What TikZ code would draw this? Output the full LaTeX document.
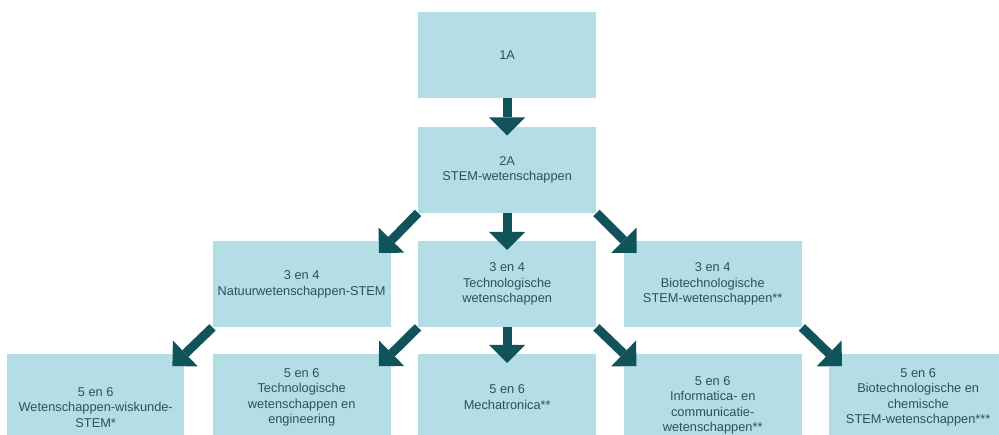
\documentclass[tikz,border=0pt]{standalone}
\usepackage{fontspec}
\setmainfont{Liberation Sans}
\usetikzlibrary{arrows.meta,calc}
\definecolor{boxfill}{HTML}{B3DEE6}
\definecolor{arrowcol}{HTML}{10535B}
\definecolor{textcol}{HTML}{2B5259}
\begin{document}
\begin{tikzpicture}[x=1pt,y=-1pt,
  box/.style={fill=boxfill, text=textcol, minimum width=178pt, minimum height=86pt,
    inner sep=0pt, anchor=north west, align=center,
    font=\fontsize{12.8}{15.5}\selectfont},
  flow/.style={draw=arrowcol, line width=9pt,
    -{Triangle[width=36pt,length=18pt,line width=0pt]}}]
\clip (0,0) rectangle (999,435);
% row 1 and 2
\node[box] (n1) at (418,12) {1A};
\node[box] (n2) at (418,126.5) {2A\\STEM-wetenschappen};
% row 3
\node[box] (n3a) at (212.5,241) {3 en 4\\Natuurwetenschappen-STEM};
\node[box] (n3b) at (418,241) {3 en 4\\Technologische\\wetenschappen};
\node[box] (n3c) at (623.5,241) {3 en 4\\Biotechnologische\\STEM-wetenschappen**};
% row 4
\node[box, minimum width=177pt, minimum height=106pt] (n4a) at (7,354) {5 en 6\\Wetenschappen-wiskunde-\\STEM*};
\node[box] (n4b) at (212.5,354) {5 en 6\\Technologische\\wetenschappen en\\engineering};
\node[box] (n4c) at (418,354) {5 en 6\\Mechatronica**};
\node[box, minimum height=102pt] (n4d) at (623.5,354) {5 en 6\\Informatica- en\\communicatie-\\wetenschappen**};
\node[box] (n4e) at (829,354) {5 en 6\\Biotechnologische en\\chemische\\STEM-wetenschappen***};
% arrows
\draw[flow] (n1.south) -- ($(n2.north)+(0,9)$);
\draw[flow] (n2.south west) -- ($(n3a.north east)+(-12,12)$);
\draw[flow] (n2.south) -- ($(n3b.north)+(0,9)$);
\draw[flow] (n2.south east) -- ($(n3c.north west)+(13,12)$);
\draw[flow] (n3a.south west) -- ($(n4a.north east)+(-12,12)$);
\draw[flow] (n3b.south west) -- ($(n4b.north east)+(-12,12)$);
\draw[flow] (n3b.south) -- ($(n4c.north)+(0,9)$);
\draw[flow] (n3b.south east) -- ($(n4d.north west)+(13,12)$);
\draw[flow] (n3c.south east) -- ($(n4e.north west)+(13,12)$);
\end{tikzpicture}
\end{document}
